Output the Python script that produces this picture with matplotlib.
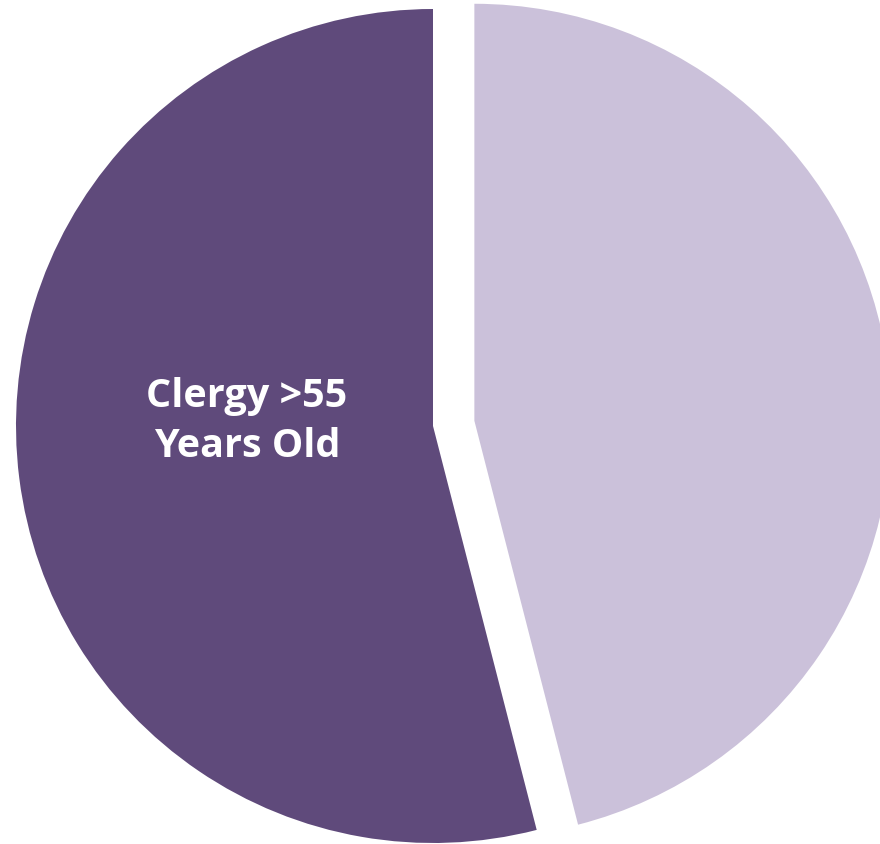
import matplotlib
matplotlib.use("Agg")
import matplotlib.pyplot as plt

# share of clergy by age group
labels = ["Clergy >55\nYears Old", ""]
shares = [54, 46]
colors = ["#5F4A7B", "#CBC1DA"]
explode_frac = [0.0, 0.1]

W, H = 880, 844
fig = plt.figure(figsize=(W / 100, H / 100), dpi=100)
ax = fig.add_axes([0, 0, 1, 1])
ax.set_xlim(0, W)
ax.set_ylim(0, H)
ax.set_aspect("equal")
ax.axis("off")

center = (433, H - 426)
radius = 417
# pie's explode is in data units, so scale by the radius
explode = [e * radius for e in explode_frac]
wedges, texts = ax.pie(shares, colors=colors, explode=explode, startangle=90,
                       counterclock=True, center=center, radius=radius,
                       labels=labels, labeldistance=0.45,
                       wedgeprops=dict(linewidth=0),
                       textprops=dict(color="white", fontsize=28.5,
                                      fontweight="bold", family="Open Sans",
                                      ha="center", va="center",
                                      linespacing=1.35))
# nudge label slightly up to sit like the original
x, y = texts[0].get_position()
texts[0].set_position((x, y + 28))

ax.set_xlim(0, W)
ax.set_ylim(0, H)
fig.savefig("out.png", dpi=100)
